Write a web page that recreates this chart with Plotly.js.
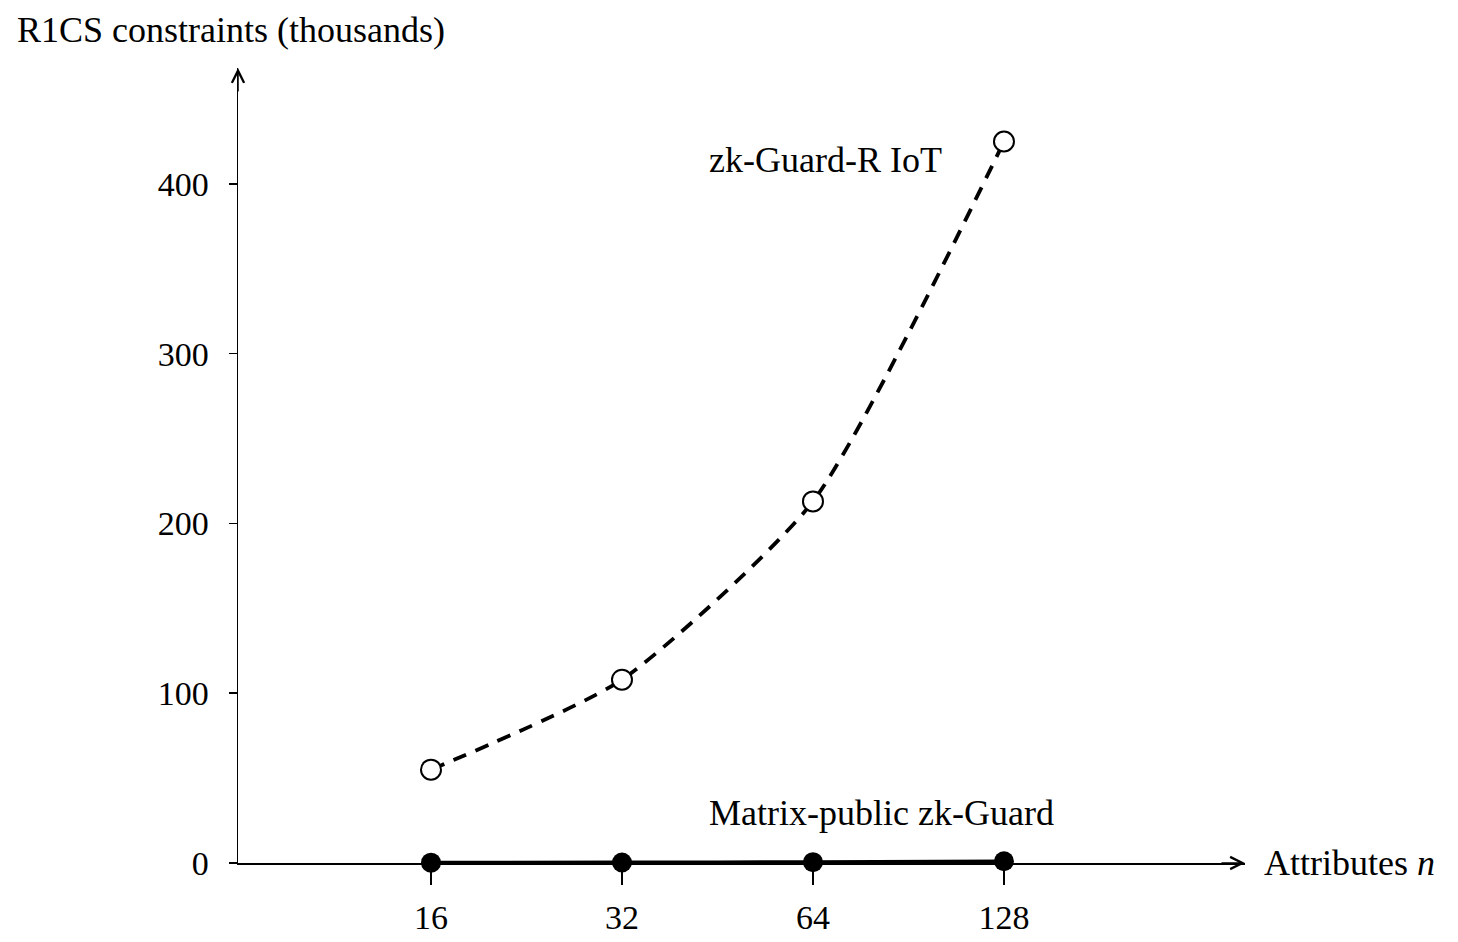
<!DOCTYPE html>
<html>
<head>
<meta charset="utf-8">
<script src="https://cdn.plot.ly/plotly-3.0.1.min.js"></script>
<style>
  html, body { margin: 0; padding: 0; background: #fff; }
  #chart { width: 1458px; height: 942px; }
</style>
</head>
<body>
<div id="chart"></div>
<script>
const categories = ['16', '32', '64', '128'];
const zkGuardR = [55, 108, 213, 425];
const matrixPublic = [0.2, 0.3, 0.5, 1.0];

const FONT = 'Liberation Serif, "DejaVu Serif", serif';
const idx = categories.map((_, i) => i);

const traces = [
  {
    x: idx, y: zkGuardR, name: 'zk-Guard-R IoT', type: 'scatter', mode: 'lines+markers',
    line: { color: '#000', width: 3.8, dash: '14px,10px', shape: 'spline', smoothing: 0.6 },
    marker: { symbol: 'circle', size: 20, color: '#fff', line: { color: '#000', width: 2 } },
  },
  {
    x: idx, y: matrixPublic, name: 'Matrix-public zk-Guard', type: 'scatter', mode: 'lines+markers',
    line: { color: '#000', width: 3.8, shape: 'spline', smoothing: 0.6 },
    marker: { symbol: 'circle', size: 20, color: '#000' },
    cliponaxis: false,
  },
];

const layout = {
  width: 1458, height: 942,
  paper_bgcolor: '#fff', plot_bgcolor: '#fff',
  font: { family: FONT, color: '#000', size: 36 },
  showlegend: false,
  margin: { l: 238, r: 213, t: 68, b: 79 },
  xaxis: {
    range: [-1.0105, 4.262],
    tickvals: idx, ticktext: categories,
    showgrid: false, zeroline: false,
    showline: true, linecolor: '#000', linewidth: 1.5,
    ticks: 'outside', ticklen: 20, tickwidth: 1.5, tickcolor: '#000',
    tickfont: { size: 34 }, ticklabelstandoff: 4,
  },
  yaxis: {
    range: [0, 468.3],
    tickvals: [0, 100, 200, 300, 400],
    showgrid: false, zeroline: false,
    showline: true, linecolor: '#000', linewidth: 1.5,
    ticks: 'outside', ticklen: 8, tickwidth: 1.5, tickcolor: '#000',
    tickfont: { size: 34 }, ticklabelstandoff: 13,
  },
  annotations: [
    { xref: 'paper', yref: 'paper', x: 1, y: 0, ax: -25, ay: 0, text: '', showarrow: true,
      arrowhead: 5, arrowsize: 1.6, arrowwidth: 1.5, arrowcolor: '#000' },
    { xref: 'paper', yref: 'paper', x: 0, y: 1, ax: 0, ay: 25, text: '', showarrow: true,
      arrowhead: 5, arrowsize: 1.6, arrowwidth: 1.5, arrowcolor: '#000' },
    { xref: 'paper', yref: 'paper', x: -0.2214, y: 1.0478, xanchor: 'left', yanchor: 'middle',
      text: 'R1CS constraints (thousands)', showarrow: false },
    { xref: 'paper', yref: 'paper', x: 1.0169, y: 0, xanchor: 'left', yanchor: 'middle',
      text: 'Attributes <i>n</i>', showarrow: false },
    { xref: 'x', yref: 'y', x: 1.445, y: 414, xanchor: 'left', yanchor: 'middle',
      text: 'zk-Guard-R IoT', showarrow: false },
    { xref: 'x', yref: 'y', x: 1.445, y: 29.5, xanchor: 'left', yanchor: 'middle',
      text: 'Matrix-public zk-Guard', showarrow: false },
  ],
};

Plotly.newPlot('chart', traces, layout, { displayModeBar: false, staticPlot: true });
</script>
</body>
</html>
